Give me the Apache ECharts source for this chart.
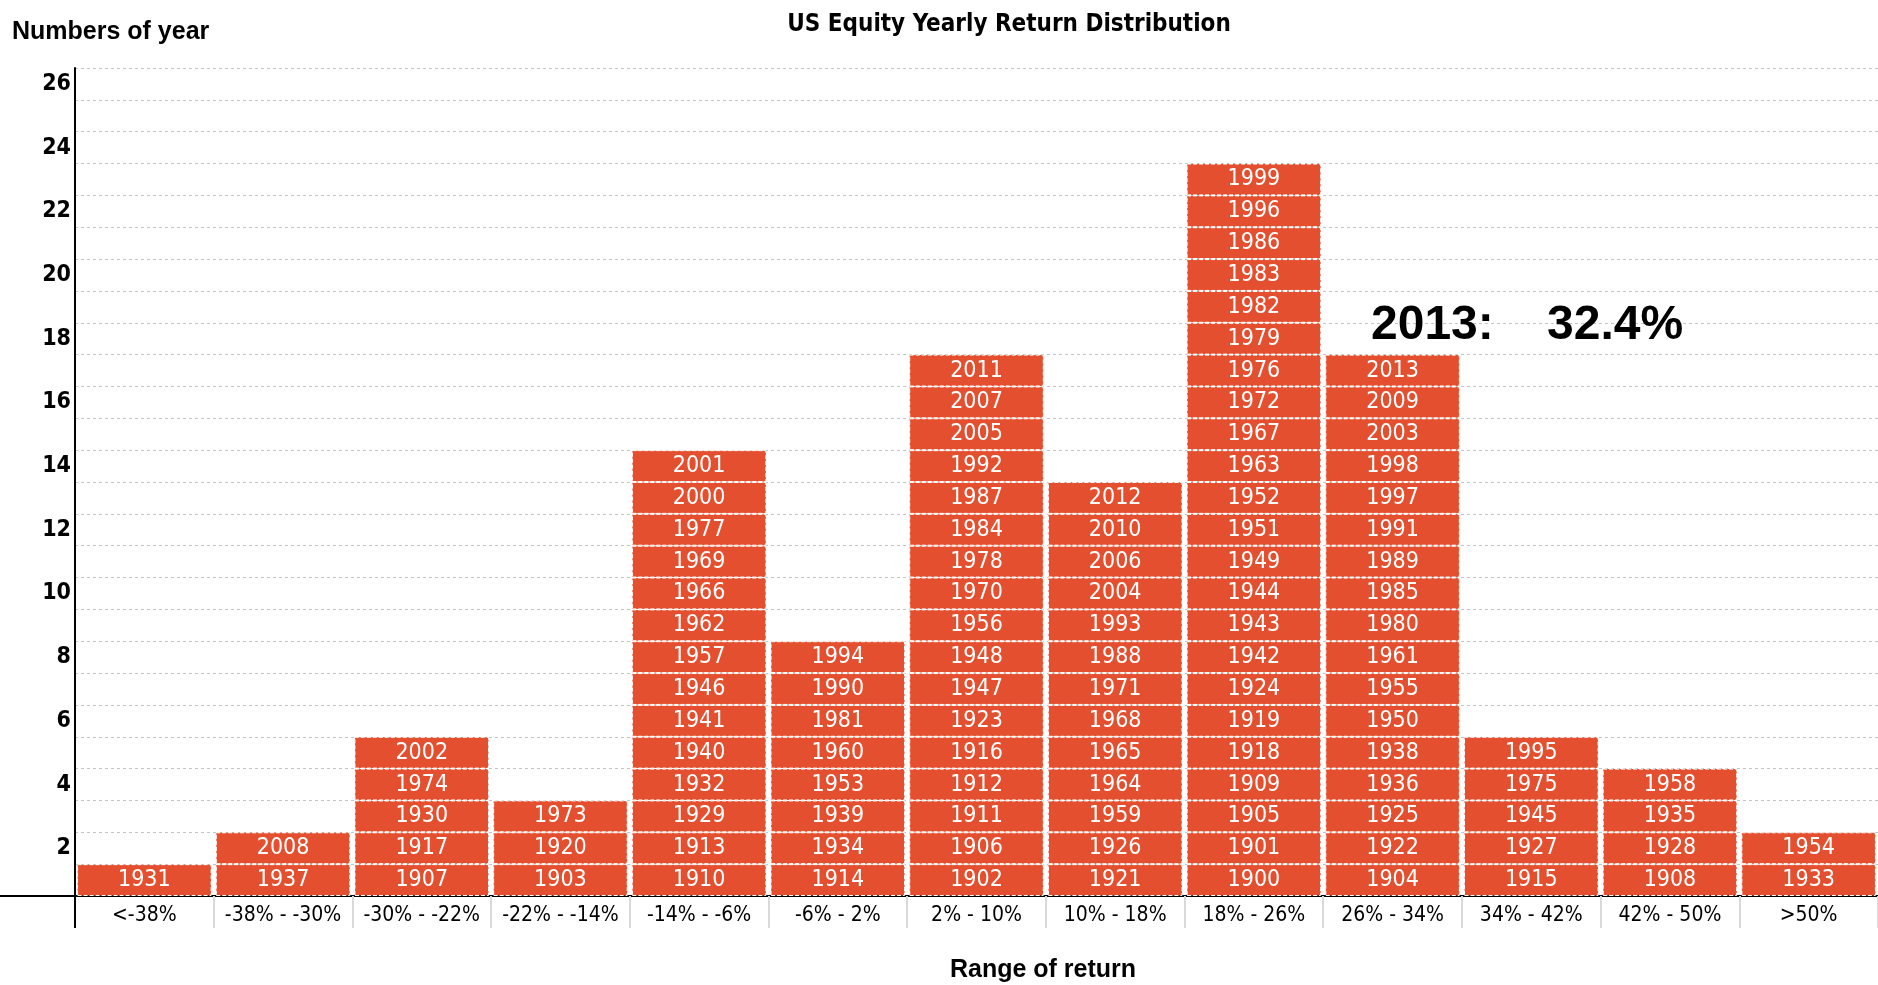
<!DOCTYPE html>
<html>
<head>
<meta charset="utf-8">
<script src="https://cdn.jsdelivr.net/npm/echarts@6/dist/echarts.min.js"></script>
<style>
  html, body { margin: 0; padding: 0; background: #fff; }
  #main { width: 1878px; height: 985px; }
</style>
</head>
<body>
<div id="main"></div>
<script>
// return buckets
var ranges = ['<-38%', '-38% - -30%', '-30% - -22%', '-22% - -14%', '-14% - -6%', '-6% - 2%',
  '2% - 10%', '10% - 18%', '18% - 26%', '26% - 34%', '34% - 42%', '42% - 50%', '>50%'];

// years in each bucket, bottom cell first
var yrsLt38 = [1931];
var yrs38to30 = [1937, 2008];
var yrs30to22 = [1907, 1917, 1930, 1974, 2002];
var yrs22to14 = [1903, 1920, 1973];
var yrs14to6 = [1910, 1913, 1929, 1932, 1940, 1941, 1946, 1957, 1962, 1966, 1969, 1977, 2000, 2001];
var yrs6to2 = [1914, 1934, 1939, 1953, 1960, 1981, 1990, 1994];
var yrs2to10 = [1902, 1906, 1911, 1912, 1916, 1923, 1947, 1948, 1956, 1970, 1978, 1984, 1987, 1992, 2005, 2007, 2011];
var yrs10to18 = [1921, 1926, 1959, 1964, 1965, 1968, 1971, 1988, 1993, 2004, 2006, 2010, 2012];
var yrs18to26 = [1900, 1901, 1905, 1909, 1918, 1919, 1924, 1942, 1943, 1944, 1949, 1951, 1952, 1963, 1967, 1972, 1976, 1979, 1982, 1983, 1986, 1996, 1999];
var yrs26to34 = [1904, 1922, 1925, 1936, 1938, 1950, 1955, 1961, 1980, 1985, 1989, 1991, 1997, 1998, 2003, 2009, 2013];
var yrs34to42 = [1915, 1927, 1945, 1975, 1995];
var yrs42to50 = [1908, 1928, 1935, 1958];
var yrsGt50 = [1933, 1954];

var yAxisLabels = [2, 4, 6, 8, 10, 12, 14, 16, 18, 20, 22, 24, 26];

var buckets = [yrsLt38, yrs38to30, yrs30to22, yrs22to14, yrs14to6, yrs6to2, yrs2to10,
  yrs10to18, yrs18to26, yrs26to34, yrs34to42, yrs42to50, yrsGt50];

var narrow = '"Liberation Sans Narrow", "DejaVu Sans Condensed", "Liberation Sans", sans-serif';
var plain = '"Liberation Sans", Arial, sans-serif';
var barColor = '#E4502F';

// one stacked series per level, each cell = 1 year
var maxLevel = Math.max.apply(null, buckets.map(function (b) { return b.length; }));
var series = [];
for (var k = 0; k < maxLevel; k++) {
  (function (k) {
    series.push({
      type: 'bar',
      stack: 'years',
      barCategoryGap: '3%',
      data: buckets.map(function (b) { return b.length > k ? 1 : '-'; }),
      itemStyle: { color: barColor, borderColor: '#ffffff', borderWidth: 1, borderType: 'dashed' },
      label: {
        show: true,
        position: 'inside',
        color: '#ffffff',
        fontFamily: narrow,
        fontSize: 23,
        formatter: function (p) { return String(buckets[p.dataIndex][k]); }
      },
      emphasis: { disabled: true },
      animation: false
    });
  })(k);
}

var chart = echarts.init(document.getElementById('main'));
chart.setOption({
  backgroundColor: '#ffffff',
  animation: false,
  title: {
    text: 'US Equity Yearly Return Distribution',
    left: 1004,
    textAlign: 'center',
    top: 8,
    textStyle: { fontFamily: narrow, fontWeight: 'bold', fontSize: 24, color: '#000' }
  },
  grid: { left: 75, right: 0, top: 68, bottom: 89, outerBoundsMode: 'none', containLabel: false },
  xAxis: {
    type: 'category',
    data: ranges,
    axisLine: { lineStyle: { color: '#000', width: 2 } },
    axisTick: { show: true, length: 32, lineStyle: { color: '#d9d9d9', width: 2 } },
    axisLabel: { interval: 0, margin: 9, fontFamily: narrow, fontSize: 21, color: '#000' }
  },
  yAxis: [{
    type: 'value',
    min: 0,
    max: 26,
    interval: 1,
    axisLine: { show: true, lineStyle: { color: '#000', width: 2 } },
    axisTick: { show: false },
    axisLabel: { show: false },
    splitLine: { show: true, lineStyle: { color: '#c4c4c4', type: [3, 3], width: 1 } }
  }, {
    // labels sit half a unit below their value, as in the original
    type: 'value',
    min: 0,
    max: 26,
    interval: 0.5,
    position: 'left',
    axisLine: { show: false },
    axisTick: { show: false },
    splitLine: { show: false },
    axisLabel: {
      margin: 4,
      fontFamily: narrow,
      fontWeight: 'bold',
      fontSize: 23,
      color: '#000',
      formatter: function (v) {
        var lab = v + 0.5;
        return yAxisLabels.indexOf(lab) >= 0 && (v * 2) % 4 === 3 ? String(lab) : '';
      }
    }
  }],
  graphic: [
    { type: 'line', shape: { x1: 0, y1: 896, x2: 75, y2: 896 }, style: { stroke: '#000', lineWidth: 2 }, z: 10 },
    { type: 'line', shape: { x1: 75, y1: 896, x2: 75, y2: 928 }, style: { stroke: '#000', lineWidth: 2 }, z: 10 },
    {
      type: 'text', left: 12, top: 20, z: 100,
      style: { text: 'Numbers of year', fontFamily: plain, fontWeight: 'bold', fontSize: 25, fill: '#000' }
    },
    {
      type: 'text', x: 1043, y: 970, z: 100,
      style: { text: 'Range of return', fontFamily: plain, fontWeight: 'bold', fontSize: 25, fill: '#000', align: 'center', verticalAlign: 'middle' }
    },
    {
      type: 'text', left: 1371, top: 302, z: 100,
      style: { text: '2013:    32.4%', fontFamily: plain, fontWeight: 'bold', fontSize: 48, fill: '#000' }
    }
  ],
  series: series
});
</script>
</body>
</html>
